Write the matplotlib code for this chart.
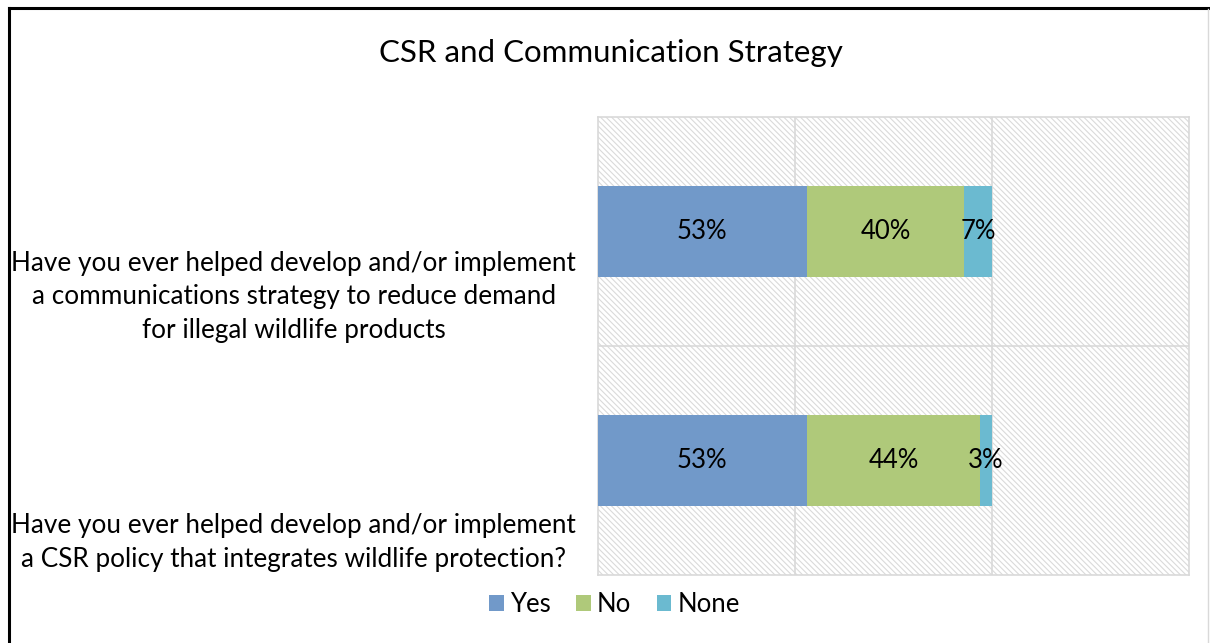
import matplotlib.pyplot as plt
from matplotlib.patches import Rectangle
from matplotlib.lines import Line2D

plt.rcParams['font.family'] = ['Lato', 'DejaVu Sans']
plt.rcParams['hatch.color'] = "#dadada"
plt.rcParams['hatch.linewidth'] = 0.8

# Survey questions, bottom to top
questions = [
    "Have you ever helped develop and/or implement\na CSR policy that integrates wildlife protection?",
    "Have you ever helped develop and/or implement\na communications strategy to reduce demand\nfor illegal wildlife products",
]
series = ["Yes", "No", "None"]
yes = [0.53, 0.53]
no = [0.44, 0.40]
none = [0.03, 0.07]
colors = ["#7199C9", "#AFC97A", "#6BBAD0"]

fig = plt.figure(figsize=(12.10, 6.43), dpi=100)
ax = fig.add_axes([0.4942, 0.1058, 0.4884, 0.7123])

# hatched plot area background
ax.add_patch(Rectangle((0, 0), 1, 1, transform=ax.transAxes, facecolor="white",
                       edgecolor="#dadada", hatch="\\" * 6, linewidth=0, zorder=0))

ypos = list(range(len(questions)))
left = [0.0] * len(questions)
for name, vals, c in zip(series, [yes, no, none], colors):
    bars = ax.barh(ypos, vals, left=left, height=0.4, color=c, label=name, zorder=3)
    for b, v in zip(bars, vals):
        ax.text(b.get_x() + b.get_width() / 2, b.get_y() + b.get_height() / 2,
                f"{round(v * 100):.0f}%", ha="center", va="center",
                fontsize=18.5, color="black", zorder=4)
    left = [l + v for l, v in zip(left, vals)]

ax.set_xlim(0, 1.5)
ax.set_ylim(-0.5, len(questions) - 0.5)
ax.set_xticks([0.5, 1.0])
ax.set_xticklabels([])
ax.set_yticks([0.5])
ax.set_yticklabels([])
ax.tick_params(length=0)
ax.grid(True, color="#d9d9d9", linewidth=1.2, zorder=1)
for s in ax.spines.values():
    s.set_color("#d9d9d9")
    s.set_linewidth(1.2)

# question labels sit below each category centre
for y, q in zip(ypos, questions):
    ax.text(-0.037, y - 0.485, q, ha="right", va="bottom", multialignment="center",
            fontsize=18.8, transform=ax.get_yaxis_transform(), linespacing=1.42)

fig.text(0.505, 0.918, "CSR and Communication Strategy", ha="center", va="center", fontsize=22.5)

fig.legend(loc="center", bbox_to_anchor=(0.508, 0.06), ncol=3, frameon=False,
           fontsize=18.5, handlelength=0.55, handleheight=0.55, handletextpad=0.25,
           columnspacing=1.0)

# outer frame
fig.add_artist(Line2D([9 / 1210, 9 / 1210], [0, 1 - 8 / 643], color="black", linewidth=2.2))
fig.add_artist(Line2D([9 / 1210, 1], [1 - 8 / 643, 1 - 8 / 643], color="black", linewidth=2.2))
fig.add_artist(Line2D([1208 / 1210, 1208 / 1210], [0, 1 - 9 / 643], color="#d9d9d9", linewidth=1))

fig.savefig("out.png", dpi=100)
